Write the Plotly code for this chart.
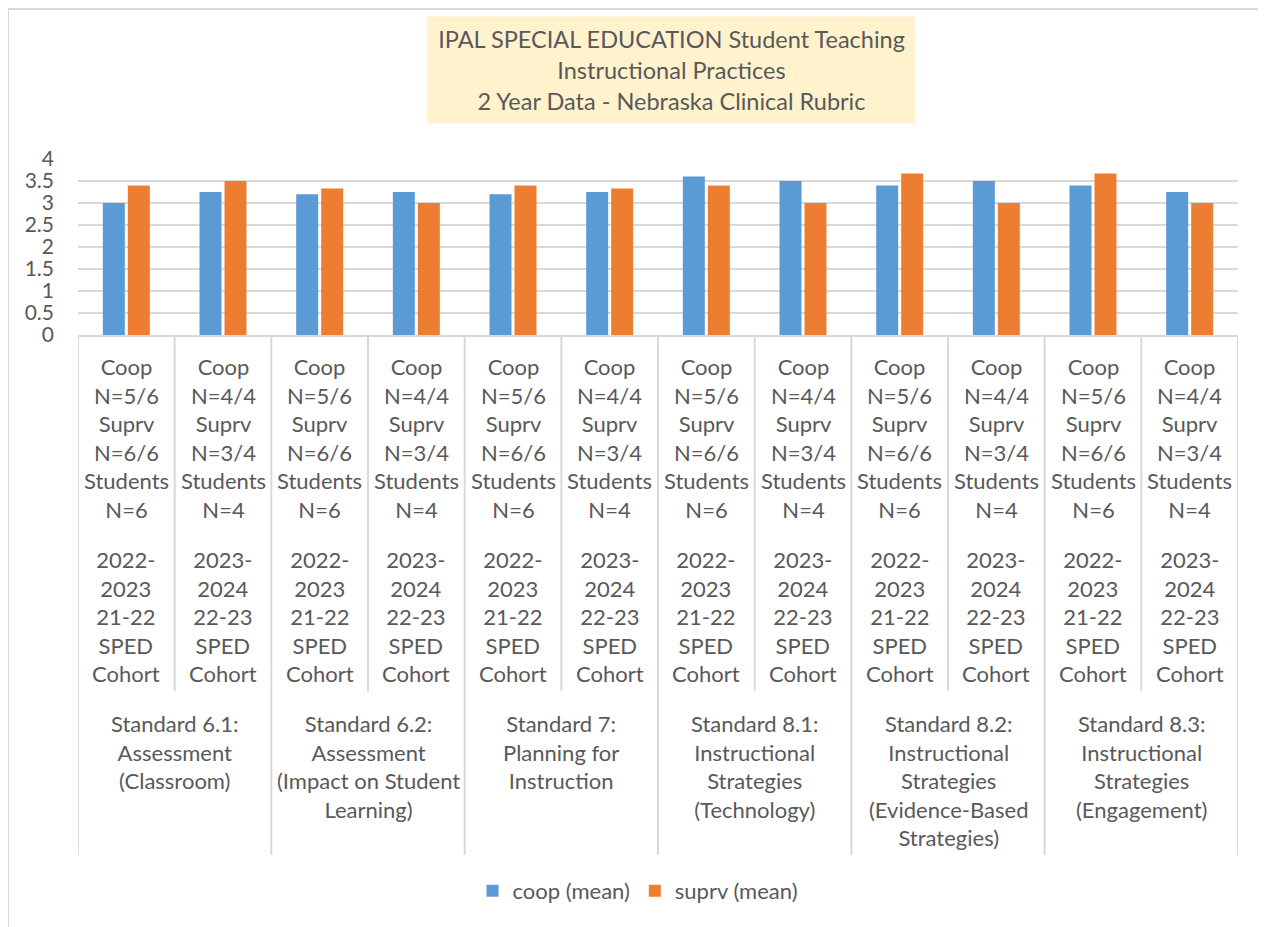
import plotly.graph_objects as go

# ---------------- data ----------------
standards = [
    "Standard 6.1:<br>Assessment<br>(Classroom)",
    "Standard 6.2:<br>Assessment<br>(Impact on Student<br>Learning)",
    "Standard 7:<br>Planning for<br>Instruction",
    "Standard 8.1:<br>Instructional<br>Strategies<br>(Technology)",
    "Standard 8.2:<br>Instructional<br>Strategies<br>(Evidence-Based<br>Strategies)",
    "Standard 8.3:<br>Instructional<br>Strategies<br>(Engagement)",
]
standard_ids = ["6.1", "6.2", "7", "8.1", "8.2", "8.3"]
cohort_ids = ["2022-2023", "2023-2024"]
cohort_counts = [
    "Coop<br>N=5/6<br>Suprv<br>N=6/6<br>Students<br>N=6",
    "Coop<br>N=4/4<br>Suprv<br>N=3/4<br>Students<br>N=4",
]
cohort_years = [
    "2022-<br>2023<br>21-22<br>SPED<br>Cohort",
    "2023-<br>2024<br>22-23<br>SPED<br>Cohort",
]
coop_mean = [3.0, 3.25, 3.2, 3.25, 3.2, 3.25, 3.6, 3.5, 3.4, 3.5, 3.4, 3.25]
suprv_mean = [3.4, 3.5, 3.33, 3.0, 3.4, 3.33, 3.4, 3.0, 3.67, 3.0, 3.67, 3.0]
y_ticks = [0, 0.5, 1, 1.5, 2, 2.5, 3, 3.5, 4]
title_text = ("IPAL SPECIAL EDUCATION Student Teaching<br>Instructional Practices"
              "<br>2 Year Data - Nebraska Clinical Rubric")

categories = [f"{s} | {c}" for s in standard_ids for c in cohort_ids]

# ---------------- layout geometry (page pixels) ----------------
OFF = 8                      # page body margin
PAGE_W, PAGE_H = 1266, 927
W, H = PAGE_W - OFF, PAGE_H - OFF
PLOT_L, PLOT_R, PLOT_T, PLOT_B = 78, 1238, 159, 335   # page pixels
L, T = PLOT_L - OFF, PLOT_T - OFF
R, B = W - (PLOT_R - OFF), H - (PLOT_B - OFF)
PW, PH = PLOT_R - PLOT_L, PLOT_B - PLOT_T
TEXT = "#595959"
GRID = "#d9d9d9"
FONT = "Lato"


def py(p):  # page pixel y -> paper y
    return (PLOT_B - p) / PH


def pxx(p):  # page pixel x -> paper x
    return (p - PLOT_L) / PW


fig = go.Figure()
fig.add_trace(go.Bar(x=categories, y=coop_mean, name="coop (mean)",
                     marker=dict(color="#5B9BD5", line=dict(width=0))))
fig.add_trace(go.Bar(x=categories, y=suprv_mean, name="suprv (mean)",
                     marker=dict(color="#ED7D31", line=dict(width=0))))

shapes = []
n = len(categories)
for i in range(n + 1):
    outer = (i % 2 == 0)
    shapes.append(dict(type="line", xref="x", yref="paper",
                       x0=i - 0.5, x1=i - 0.5, y0=0,
                       y1=py(855 if outer else 691),
                       line=dict(color=GRID, width=2)))
# chart border (left and top)
shapes.append(dict(type="line", xref="paper", yref="paper",
                   x0=pxx(8), x1=pxx(8), y0=py(9), y1=py(PAGE_H + 10),
                   line=dict(color=GRID, width=2)))
shapes.append(dict(type="line", xref="paper", yref="paper",
                   x0=pxx(7), x1=pxx(PAGE_W + 10), y0=py(9), y1=py(9),
                   line=dict(color=GRID, width=2)))

annotations = []
for i, cat in enumerate(categories):
    k = i % 2
    annotations.append(dict(x=cat, xref="x", yref="paper", y=py(351),
                            yanchor="top", xanchor="center", showarrow=False,
                            text=cohort_counts[k],
                            font=dict(family=FONT, size=22, color=TEXT)))
    annotations.append(dict(x=cat, xref="x", yref="paper", y=py(544),
                            yanchor="top", xanchor="center", showarrow=False,
                            text=cohort_years[k],
                            font=dict(family=FONT, size=22, color=TEXT)))
for j, s in enumerate(standards):
    annotations.append(dict(x=2 * j + 0.5, xref="x", yref="paper", y=py(708),
                            yanchor="top", xanchor="center", showarrow=False,
                            text=s, font=dict(family=FONT, size=22, color=TEXT)))
annotations.append(dict(x=pxx(671.5), y=py(70), xref="paper", yref="paper",
                        xanchor="center", yanchor="middle", showarrow=False,
                        text=title_text, bgcolor="#FFF2CC", borderpad=8,
                        width=471, height=90,
                        font=dict(family=FONT, size=23.5, color=TEXT)))

fig.update_layout(
    width=W, height=H,
    margin=dict(l=L, r=R, t=T, b=B, pad=0),
    paper_bgcolor="white", plot_bgcolor="white",
    barmode="group", bargap=0.483, bargroupgap=0.12,
    showlegend=True,
    legend=dict(orientation="h", xref="container", yref="container",
                x=(638 - OFF) / W, xanchor="center",
                y=1 - (891 - OFF) / H, yanchor="middle",
                font=dict(family=FONT, size=22, color=TEXT),
                itemwidth=30, bgcolor="rgba(0,0,0,0)"),
    shapes=shapes, annotations=annotations,
    font=dict(family=FONT, color=TEXT),
)
fig.update_xaxes(type="category", range=[-0.5, n - 0.5], showticklabels=False,
                 showgrid=False, showline=True, linecolor=GRID, linewidth=2,
                 ticks="", zeroline=False, fixedrange=True)
fig.update_yaxes(range=[0, 4], tickvals=y_ticks,
                 ticktext=[f"{v:g}" for v in y_ticks],
                 showgrid=True, gridcolor=GRID, gridwidth=2,
                 showline=False, zeroline=False, ticks="",
                 ticklabelstandoff=23,
                 tickfont=dict(family=FONT, size=21, color=TEXT), fixedrange=True)

fig.write_html("out.html")
